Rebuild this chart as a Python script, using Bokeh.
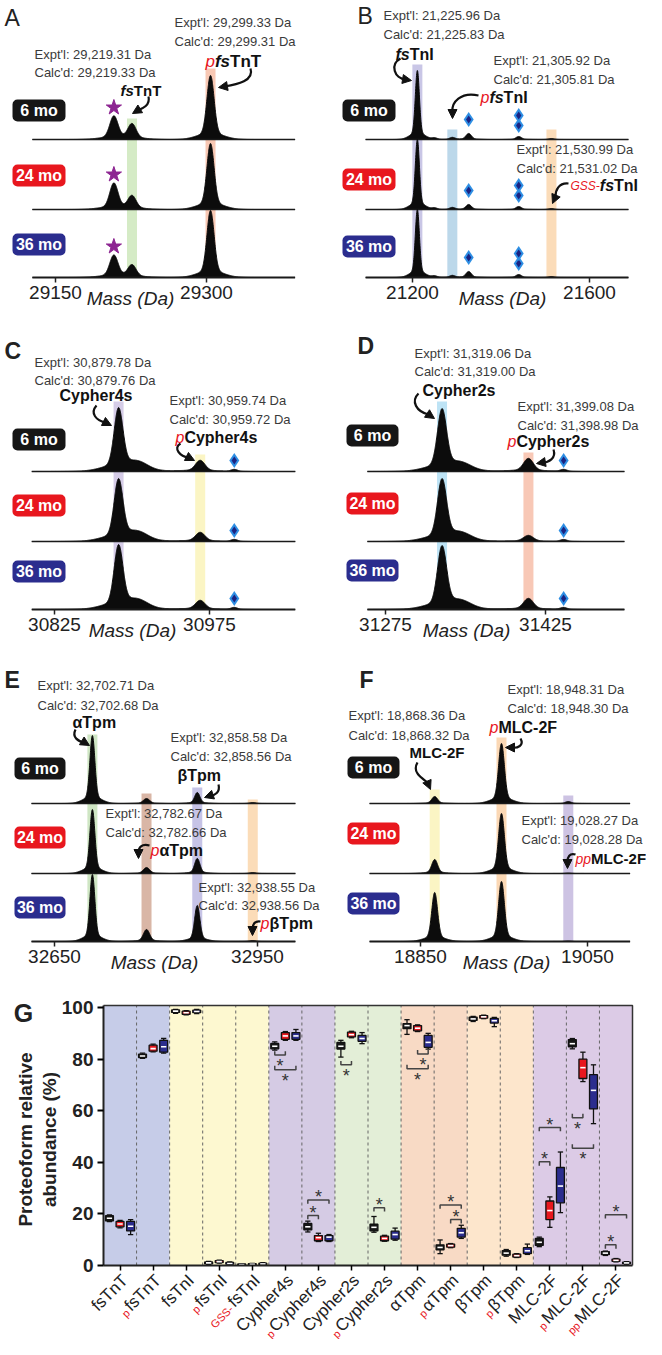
import numpy as np
from bokeh.plotting import figure
from bokeh.models import Range1d, FixedTicker, Label, Arrow, NormalHead
from bokeh.layouts import column, row
from bokeh.embed import file_html
from bokeh.resources import INLINE
from bokeh.core.properties import value

FONT = "Liberation Sans"
RED = "#e8171e"
AGES = ["6 mo", "24 mo", "36 mo"]
AGE_COLORS = ["#161616", "#e8171e", "#2b2d8e"]

# ---------------- Panel A : fsTnT ----------------
A_TICKS = [29150, 29300]
A_WINDOW = [29127, 29388]
A_MASS = [29208, 29226, 29304]
A_INT_6MO = [23, 15, 64]
A_INT_24MO = [26, 13, 66]
A_INT_36MO = [22, 12, 67]
A_SIGMA = [4.0, 4.0, 3.5]

# ---------------- Panel B : fsTnI ----------------
B_TICKS = [21200, 21600]
B_WINDOW = [21094, 21688]
B_MASS = [21211, 21250, 21290, 21327, 21440, 21514]
B_INT_6MO = [69, 1.5, 2, 6, 3, 1]
B_INT_24MO = [70, 1.5, 2, 5, 3, 1]
B_INT_36MO = [68, 1.5, 2, 6, 3, 1]
B_SIGMA = [4.5, 6, 6, 6, 6, 6]

# ---------------- Panel C : Cypher4s ----------------
C_TICKS = [30825, 30975]
C_WINDOW = [30803, 31058]
C_MASS = [30887, 30906, 30966, 30999]
C_INT_6MO = [62, 8, 11, 2]
C_INT_24MO = [61, 8, 9, 2]
C_INT_36MO = [63, 8, 9, 2]
C_SIGMA = [4.2, 10, 4.5, 3]

# ---------------- Panel D : Cypher2s ----------------
D_TICKS = [31275, 31425]
D_WINDOW = [31258, 31499]
D_MASS = [31328, 31346, 31409, 31442]
D_INT_6MO = [61, 7, 13, 2]
D_INT_24MO = [61, 7, 6, 2]
D_INT_36MO = [62, 7, 11, 2]
D_SIGMA = [4.2, 10, 4.5, 3]

# ---------------- Panel E : Tpm ----------------
E_TICKS = [32650, 32950]
E_WINDOW = [32616, 33006]
E_MASS = [32706, 32786, 32861, 32943]
E_INT_6MO = [68, 5, 11, 1]
E_INT_24MO = [64, 6, 15, 1]
E_INT_36MO = [67, 12, 36, 1]
E_SIGMA = [3.6, 4.5, 3.8, 4.5]

# ---------------- Panel F : MLC-2F ----------------
F_TICKS = [18850, 19050]
F_WINDOW = [18789, 19101]
F_MASS = [18867, 18947, 19027]
F_INT_6MO = [7, 60, 2]
F_INT_24MO = [14, 60, 0.5]
F_INT_36MO = [49, 60, 0.5]
F_SIGMA = [3.4, 3.4, 3.4]

# ---------------- Panel G : box plots ----------------
CAT_PREFIX = ["", "p", "", "p", "GSS-", "", "p", "", "p", "", "p", "", "p", "", "p", "pp"]
CAT_NAME = ["fsTnT", "fsTnT", "fsTnI", "fsTnI", "fsTnI", "Cypher4s", "Cypher4s", "Cypher2s",
            "Cypher2s", "αTpm", "αTpm", "βTpm", "βTpm", "MLC-2F", "MLC-2F", "MLC-2F"]
GROUP_SIZES = [2, 3, 2, 2, 2, 2, 3]
GROUP_COLORS = ["#c6cce8", "#fdf8d0", "#d5cbe4", "#e3eed7", "#f8dac5", "#fde6cc", "#dccbe6"]

MED_6MO = [18.3, 81.2, 98.6, 1.0, 0.4, 85.0, 15.0, 85.0, 14.8, 93.0, 7.0, 95.6, 4.8, 9.0, 86.0, 4.8]
Q1_6MO = [17.3, 80.6, 98.1, 0.6, 0.2, 84.0, 13.8, 83.9, 13.4, 91.8, 6.1, 95.0, 4.0, 7.8, 84.8, 4.2]
Q3_6MO = [19.3, 81.9, 99.1, 1.4, 0.6, 86.1, 16.3, 86.5, 16.0, 93.8, 8.0, 96.3, 5.8, 10.5, 87.6, 5.4]
LO_6MO = [17.0, 80.3, 97.8, 0.4, 0.1, 83.5, 13.0, 80.8, 12.9, 89.6, 4.6, 94.6, 3.6, 7.3, 84.0, 3.9]
HI_6MO = [19.6, 82.3, 99.3, 1.6, 0.7, 86.7, 17.2, 87.3, 19.0, 95.3, 9.9, 96.6, 6.2, 11.0, 88.0, 5.6]

MED_24MO = [16.1, 84.1, 98.0, 1.5, 0.5, 89.0, 10.8, 89.5, 10.5, 92.0, 7.7, 96.4, 3.8, 21.3, 76.7, 2.0]
Q1_24MO = [15.0, 83.1, 97.4, 1.1, 0.3, 87.7, 9.6, 88.6, 9.6, 91.0, 7.1, 95.9, 3.3, 17.8, 72.5, 1.6]
Q3_24MO = [17.1, 85.4, 98.6, 1.9, 0.7, 90.3, 11.6, 90.5, 11.4, 93.0, 8.3, 96.9, 4.4, 25.0, 80.0, 2.5]
LO_24MO = [14.6, 82.8, 97.2, 0.9, 0.2, 87.3, 9.3, 88.3, 9.4, 90.7, 6.9, 95.7, 3.1, 14.8, 71.3, 1.4]
HI_24MO = [17.5, 85.8, 98.8, 2.1, 0.8, 90.7, 12.5, 90.8, 11.7, 93.3, 8.5, 97.1, 4.6, 26.6, 82.7, 2.7]

MED_36MO = [15.2, 84.8, 98.5, 0.8, 0.6, 89.0, 11.0, 88.0, 12.0, 86.5, 12.7, 94.9, 5.7, 30.8, 67.9, 1.0]
Q1_36MO = [13.4, 82.7, 98.0, 0.5, 0.3, 87.7, 9.6, 86.9, 10.2, 84.6, 11.0, 94.0, 4.6, 24.3, 60.7, 0.7]
Q3_36MO = [17.1, 87.3, 99.0, 1.2, 0.9, 90.3, 11.6, 89.2, 13.3, 89.2, 14.4, 95.8, 6.9, 38.0, 74.0, 1.3]
LO_36MO = [12.0, 82.3, 97.7, 0.3, 0.1, 87.3, 9.3, 86.0, 9.8, 83.9, 10.5, 92.6, 4.3, 20.5, 55.0, 0.5]
HI_36MO = [17.8, 88.0, 99.3, 1.4, 1.1, 91.5, 12.0, 90.3, 14.5, 90.0, 15.6, 96.2, 8.3, 44.0, 77.8, 1.5]

SIG_CAT = [5, 5, 6, 6, 7, 8, 9, 9, 10, 10, 13, 13, 14, 14, 15, 15]
SIG_A = [0, 0, 0, 0, 0, 0, 1, 0, 1, 0, 0, 0, 0, 0, 0, 0]
SIG_B = [1, 2, 1, 2, 1, 1, 2, 2, 2, 2, 1, 2, 1, 2, 1, 2]
SIG_Y = [81.6, 75.9, 19.4, 25.4, 77.8, 22.4, 82.0, 76.3, 17.8, 23.5, 40.2, 53.5, 57.3, 45.5, 8.0, 19.7]
SIG_SIDE = ["below", "below", "above", "above", "below", "above", "below", "below", "above", "above",
            "above", "above", "below", "below", "above", "above"]

# ---------------- text width helper (Arial-metric font) ----------------
WR = {" ": .278, "'": .191, ",": .278, ".": .278, ":": .278, "-": .333, "(": .333, ")": .333, "α": .58, "β": .58}
WR.update({d: .556 for d in "0123456789"})
WR.update(dict(zip("ABCDEFGHIJKLMNOPQRSTUVWXYZ", [.667, .667, .722, .722, .667, .611, .778, .722, .278, .5, .667, .556, .833, .722, .778, .667, .778, .722, .667, .611, .722, .667, .944, .667, .667, .611])))
WR.update(dict(zip("abcdefghijklmnopqrstuvwxyz", [.556, .556, .5, .556, .556, .278, .556, .556, .222, .222, .5, .222, .833, .556, .556, .556, .556, .333, .5, .278, .556, .5, .722, .5, .5, .5])))
WB = dict(WR)
WB.update({"α": .62, "β": .62})
WB.update(dict(zip("ABCDEFGHIJKLMNOPQRSTUVWXYZ", [.722, .722, .722, .722, .667, .611, .778, .722, .278, .556, .722, .611, .833, .722, .778, .667, .778, .722, .667, .611, .722, .667, .944, .667, .667, .611])))
WB.update(dict(zip("abcdefghijklmnopqrstuvwxyz", [.556, .611, .556, .611, .556, .333, .611, .611, .278, .278, .556, .278, .889, .611, .611, .611, .611, .389, .556, .333, .611, .556, .778, .556, .556, .5])))


def tw(s, size, bold=False):
    t = WB if bold else WR
    return size * sum(t.get(ch, 0.556) for ch in s)


OFFSETS = [138, 68, 0]
BK = "#111111"
TXT = "#3a3a3a"

LAYOUT = {
    "A": dict(tick_px=(63, 214), left=8, top=8, letter=("A", 12, 25, "normal"),
              mass_label=138, boxes_x=(20, 73), boxes_y=(118, 183, 252),
              bands=[(1, 126, "#d5ebc6"), (2, 76, "#f8c8b4")],
              markers=[(0, "star", [9])],
              texts=[(182, 30, "Expt'l: 29,299.33 Da"), (182, 49, "Calc'd: 29,299.31 Da"),
                     (42, 62, "Expt'l: 29,219.31 Da"), (42, 80, "Calc'd: 29,219.33 Da")],
              rich=[(128, 98, [("fs", 15, BK, "bold italic"), ("TnT", 15, BK, "bold")]),
                    (213, 69, [("p", 17, RED, "italic"), ("fs", 17, BK, "bold italic"), ("TnT", 17, BK, "bold")])],
              arrows=[((156, 104), (158, 113), (150, 116), (145, 118), (140, 121)),
                      ((258, 76), (262, 88), (245, 92), (232, 94), (226, 95))]),
    "B": dict(tick_px=(420, 597), left=331, top=8, letter=("B", 365, 23, "normal"),
              mass_label=510, boxes_x=(350, 403), boxes_y=(118, 187, 254),
              bands=[(0, 72, "#c9c6e6"), (2, 137, "#bcd8ea"), (5, 137, "#fbdcb9")],
              markers=[(3, "diamond", [14]), (4, "diamond", [11, 21])],
              texts=[(391, 23, "Expt'l: 21,225.96 Da"), (391, 42, "Calc'd: 21,225.83 Da"),
                     (501, 68, "Expt'l: 21,305.92 Da"), (501, 87, "Calc'd: 21,305.81 Da"),
                     (524, 157, "Expt'l: 21,530.99 Da"), (524, 176, "Calc'd: 21,531.02 Da")],
              rich=[(403, 62, [("fs", 16, BK, "bold italic"), ("TnI", 16, BK, "bold")]),
                    (488, 105, [("p", 16, RED, "italic"), ("fs", 16, BK, "bold italic"), ("TnI", 16, BK, "bold")]),
                    (578, 193, [("GSS-", 12, RED, "italic"), ("fs", 16, BK, "bold italic"), ("TnI", 16, BK, "bold")])],
              arrows=[((408, 66), (397, 72), (402, 86), (413, 87), (419, 88)),
                      ((486, 103), (468, 99), (459, 110), (460, 119), (460, 126)),
                      ((576, 191), (566, 190), (563, 198), (563, 204), (560, 211))]),
    "C": dict(tick_px=(62, 217), left=8, top=340, letter=("C", 12, 358, "bold"),
              mass_label=140, boxes_x=(20, 73), boxes_y=(447, 513, 579),
              bands=[(0, 409, "#d5cce7"), (2, 462, "#fbf5c4")],
              markers=[(3, "diamond", [9])],
              texts=[(42, 370, "Expt'l: 30,879.78 Da"), (42, 388, "Calc'd: 30,879.76 Da"),
                     (177, 408, "Expt'l: 30,959.74 Da"), (177, 427, "Calc'd: 30,959.72 Da")],
              rich=[(67, 403, [("Cypher4s", 16, BK, "bold")]),
                    (183, 445, [("p", 16, RED, "italic"), ("Cypher4s", 16, BK, "bold")])],
              arrows=[((104, 413), (97, 421), (104, 428), (113, 430), (119, 433)),
                      ((188, 451), (180, 456), (188, 464), (196, 465), (202, 468))]),
    "D": dict(tick_px=(393, 553), left=331, top=340, letter=("D", 365, 353, "bold"),
              mass_label=474, boxes_x=(354, 406), boxes_y=(443, 511, 578),
              bands=[(0, 409, "#bde3f5"), (2, 460, "#f8c8b6")],
              markers=[(3, "diamond", [9])],
              texts=[(422, 361, "Expt'l: 31,319.06 Da"), (422, 379, "Calc'd: 31,319.00 Da"),
                     (525, 414, "Expt'l: 31,399.08 Da"), (525, 433, "Calc'd: 31,398.98 Da")],
              rich=[(430, 398, [("Cypher2s", 16, BK, "bold")]),
                    (515, 449, [("p", 16, RED, "italic"), ("Cypher2s", 16, BK, "bold")])],
              arrows=[((426, 401), (418, 409), (424, 419), (436, 422), (442, 426)),
                      ((561, 457), (564, 466), (556, 470), (550, 470), (544, 471))]),
    "E": dict(tick_px=(62, 265), left=8, top=672, letter=("E", 12, 687, "bold"),
              mass_label=162, boxes_x=(22, 73), boxes_y=(776, 845, 915),
              bands=[(0, 742, "#cfe6c4"), (1, 801, "#d9b6a6"), (2, 795, "#c6c3e6"), (3, 807, "#fbdcb8")],
              markers=[],
              texts=[(45, 693, "Expt'l: 32,702.71 Da"), (45, 713, "Calc'd: 32,702.68 Da"),
                     (178, 745, "Expt'l: 32,858.58 Da"), (178, 764, "Calc'd: 32,858.56 Da"),
                     (113, 821, "Expt'l: 32,782.67 Da"), (113, 840, "Calc'd: 32,782.66 Da"),
                     (206, 895, "Expt'l: 32,938.55 Da"), (206, 913, "Calc'd: 32,938.56 Da")],
              rich=[(80, 730, [("αTpm", 16, BK, "bold")]),
                    (185, 783, [("βTpm", 16, BK, "bold")]),
                    (158, 858, [("p", 16, RED, "italic"), ("αTpm", 16, BK, "bold")]),
                    (268, 931, [("p", 16, RED, "italic"), ("βTpm", 16, BK, "bold")])],
              arrows=[((83, 737), (79, 745), (86, 749), (92, 750), (97, 753)),
                      ((226, 792), (228, 800), (222, 803), (218, 803), (212, 805)),
                      ((157, 853), (149, 851), (146, 855), (146, 860), (146, 866)),
                      ((268, 929), (262, 928), (260, 932), (260, 937), (260, 943))]),
    "F": dict(tick_px=(428, 595), left=331, top=672, letter=("F", 367, 687, "bold"),
              mass_label=514, boxes_x=(355, 407), boxes_y=(775, 841, 911),
              bands=[(0, 797, "#fbf5c4"), (1, 745, "#fbd8b5"), (2, 803, "#cdc3e3")],
              markers=[],
              texts=[(515, 697, "Expt'l: 18,948.31 Da"), (515, 716, "Calc'd: 18,948.30 Da"),
                     (356, 723, "Expt'l: 18,868.36 Da"), (356, 743, "Calc'd: 18,868.32 Da"),
                     (529, 828, "Expt'l: 19,028.27 Da"), (529, 847, "Calc'd: 19,028.28 Da")],
              rich=[(497, 735, [("p", 16, RED, "italic"), ("MLC-2F", 16, BK, "bold")]),
                    (417, 760, [("MLC-2F", 15, BK, "bold")]),
                    (583, 866, [("pp", 14, RED, "italic"), ("MLC-2F", 15, BK, "bold")])],
              arrows=[((528, 746), (532, 753), (525, 756), (519, 755), (513, 755)),
                      ((425, 770), (419, 780), (430, 786), (435, 790), (438, 797)),
                      ((583, 862), (577, 860), (575, 865), (575, 869), (575, 876))]),
}


def spectrum_panel(ticks, window, mass, ints, sigma, lay):
    left, top = lay["left"], lay["top"]
    base = top + 277
    p0, p1 = lay["tick_px"]
    s = (p1 - p0) / (ticks[1] - ticks[0])

    def X(px):
        return ticks[0] + (px - p0) / s

    def Y(py):
        return base - py

    p = figure(width=323, height=332, x_range=Range1d(X(left), X(left + 323)), y_range=Range1d(-55, 277),
               output_backend="svg", toolbar_location=None, y_axis_location=None,
               min_border_left=0, min_border_right=0, min_border_top=0, min_border_bottom=0)
    p.grid.visible = False
    p.outline_line_color = None
    ax = p.xaxis[0]
    ax.fixed_location = 0
    ax.ticker = FixedTicker(ticks=ticks)
    ax.axis_line_color = None
    ax.major_tick_in = 0
    ax.major_tick_out = 5
    ax.major_tick_line_color = "#222222"
    ax.major_tick_line_width = 1.5
    ax.minor_tick_line_color = None
    ax.major_label_text_font = FONT
    ax.major_label_text_font_size = "19px"
    ax.major_label_text_color = "#222222"
    ax.major_label_standoff = 3

    hw = 5 / s
    for idx, top_py, col in lay["bands"]:
        p.quad(left=[mass[idx] - hw], right=[mass[idx] + hw], bottom=[0], top=[Y(top_py)],
               fill_color=col, line_color=None)

    x = np.linspace(window[0], window[1], 1600)
    for k in range(3):
        off = OFFSETS[k]
        prof = np.zeros_like(x)
        for c, h, sg in zip(mass, ints[k], sigma):
            prof += h * (np.exp(-0.5 * ((x - c) / sg) ** 2) + 0.12 * np.exp(-0.5 * ((x - c) / (3.5 * sg)) ** 2)) / 1.12
        p.varea(x=x, y1=np.full_like(x, off), y2=off + prof, fill_color="#0c0c0c")
        p.line(x, off + prof, line_color="#0c0c0c", line_width=1)
        p.line([window[0], window[1]], [off, off], line_color="#1a1a1a", line_width=2.2 if k == 2 else 1.6)

    for idx, kind, gaps in lay["markers"]:
        for k in range(3):
            for g in gaps:
                yy = OFFSETS[k] + ints[k][idx] + g
                if kind == "star":
                    p.scatter([mass[idx]], [yy], marker="star", size=16, fill_color="#8d2592", line_color="#8d2592")
                else:
                    p.scatter([mass[idx]], [yy], marker="diamond", size=15, fill_color="#2e8fe4", line_color=None)
                    p.scatter([mass[idx]], [yy], marker="diamond", size=8, fill_color="#1b2382", line_color=None)

    bx0, bx1 = lay["boxes_x"]
    for k, cy in enumerate(lay["boxes_y"]):
        p.quad(left=[X(bx0)], right=[X(bx1)], bottom=[Y(cy + 11)], top=[Y(cy - 11)],
               fill_color=AGE_COLORS[k], line_color=None, border_radius=5)
        p.add_layout(Label(x=X((bx0 + bx1) / 2), y=Y(cy), text=AGES[k], text_color="white", text_font=FONT,
                           text_font_style="bold", text_font_size="16px", text_align="center",
                           text_baseline="middle"))

    for lx, ly, t in lay["texts"]:
        p.add_layout(Label(x=X(lx), y=Y(ly), text=t, text_color=TXT, text_font=FONT, text_font_size="13px",
                           text_align="left", text_baseline="middle"))

    for lx, ly, segs in lay["rich"]:
        cx = lx
        for t, size, col, style in segs:
            p.add_layout(Label(x=X(cx), y=Y(ly), text=t, text_color=col, text_font=FONT, text_font_style=style,
                               text_font_size=f"{size}px", text_align="left", text_baseline="middle"))
            cx += tw(t, size, "bold" in style)

    for a, c0, c1, b, h in lay["arrows"]:
        p.bezier(x0=[X(a[0])], y0=[Y(a[1])], cx0=[X(c0[0])], cy0=[Y(c0[1])], cx1=[X(c1[0])], cy1=[Y(c1[1])],
                 x1=[X(b[0])], y1=[Y(b[1])], line_color=BK, line_width=2.2)
        p.add_layout(Arrow(end=NormalHead(size=9, fill_color=BK, line_color=BK, line_width=1),
                           x_start=X(b[0]), y_start=Y(b[1]), x_end=X(h[0]), y_end=Y(h[1]),
                           line_color=BK, line_width=2.2))

    lt, lx, ly, st = lay["letter"]
    p.add_layout(Label(x=X(lx), y=Y(ly), text=lt, text_color="#222222", text_font=FONT, text_font_style=st,
                       text_font_size="23px", text_align="left", text_baseline="middle"))
    p.add_layout(Label(x=X(lay["mass_label"]), y=-21, text="Mass (Da)", text_color="#222222", text_font=FONT,
                       text_font_style="italic", text_font_size="19px", text_align="center",
                       text_baseline="middle"))
    return p


pa = spectrum_panel(A_TICKS, A_WINDOW, A_MASS, [A_INT_6MO, A_INT_24MO, A_INT_36MO], A_SIGMA, LAYOUT["A"])
pb = spectrum_panel(B_TICKS, B_WINDOW, B_MASS, [B_INT_6MO, B_INT_24MO, B_INT_36MO], B_SIGMA, LAYOUT["B"])
pc = spectrum_panel(C_TICKS, C_WINDOW, C_MASS, [C_INT_6MO, C_INT_24MO, C_INT_36MO], C_SIGMA, LAYOUT["C"])
pd = spectrum_panel(D_TICKS, D_WINDOW, D_MASS, [D_INT_6MO, D_INT_24MO, D_INT_36MO], D_SIGMA, LAYOUT["D"])
pe = spectrum_panel(E_TICKS, E_WINDOW, E_MASS, [E_INT_6MO, E_INT_24MO, E_INT_36MO], E_SIGMA, LAYOUT["E"])
pf = spectrum_panel(F_TICKS, F_WINDOW, F_MASS, [F_INT_6MO, F_INT_24MO, F_INT_36MO], F_SIGMA, LAYOUT["F"])

# ---------------- Panel G ----------------
NCAT = len(CAT_NAME)
YMAX = 100.8
PXX = 529 / NCAT      # px per category
PXY = 260 / YMAX      # px per % unit
G_AXIS = 1273         # page y of the 0 line

fg = figure(width=646, height=343, x_range=Range1d(-103 / PXX, 543 / PXX),
            y_range=Range1d(-74 / PXY, YMAX + 9 / PXY),
            output_backend="svg", toolbar_location=None,
            min_border_left=0, min_border_right=0, min_border_top=0, min_border_bottom=0)
fg.grid.visible = False
fg.outline_line_color = None

edges = np.cumsum([0] + GROUP_SIZES)
fg.quad(left=edges[:-1], right=edges[1:], bottom=0, top=YMAX, fill_color=GROUP_COLORS, line_color=None)
bounds = np.arange(1, NCAT)
fg.segment(x0=bounds, y0=0, x1=bounds, y1=YMAX, line_color="#666666", line_dash="3 3", line_width=1)
fg.line([0, NCAT, NCAT], [YMAX, YMAX, 0], line_color="#333333", line_width=1.5)

OFFS = [-0.32, 0.0, 0.32]
STATS = [(MED_6MO, Q1_6MO, Q3_6MO, LO_6MO, HI_6MO),
         (MED_24MO, Q1_24MO, Q3_24MO, LO_24MO, HI_24MO),
         (MED_36MO, Q1_36MO, Q3_36MO, LO_36MO, HI_36MO)]
for k, (med, q1, q3, lo, hi) in enumerate(STATS):
    xs = np.arange(NCAT) + 0.5 + OFFS[k]
    fg.segment(x0=xs, y0=lo, x1=xs, y1=hi, line_color=BK, line_width=1.3)
    fg.segment(x0=xs - 0.08, y0=lo, x1=xs + 0.08, y1=lo, line_color=BK, line_width=1.3)
    fg.segment(x0=xs - 0.08, y0=hi, x1=xs + 0.08, y1=hi, line_color=BK, line_width=1.3)
    fg.vbar(x=xs, bottom=q1, top=q3, width=0.24, fill_color=AGE_COLORS[k], line_color=BK, line_width=1.3)
    fg.segment(x0=xs - 0.08, y0=med, x1=xs + 0.08, y1=med, line_color="white", line_width=1.6)

star_x, star_y = [], []
for c, a, b, yv, side in zip(SIG_CAT, SIG_A, SIG_B, SIG_Y, SIG_SIDE):
    xa = c + 0.5 + OFFS[a]
    xb = c + 0.5 + OFFS[b]
    t = -1.5 if side == "above" else 1.5
    fg.line([xa, xa, xb, xb], [yv + t, yv, yv, yv + t], line_color="#444444", line_width=1.5)
    star_x.append((xa + xb) / 2)
    star_y.append(yv + 1.1 if side == "above" else yv - 4.3)
fg.text(x=star_x, y=star_y, text=["*"] * len(star_x), text_font=value(FONT), text_font_size="18px",
        text_color="#333333", text_align="center", text_baseline="middle")

yax = fg.yaxis[0]
yax.fixed_location = 0
yax.bounds = (0, YMAX)
yax.ticker = FixedTicker(ticks=[0, 20, 40, 60, 80, 100])
yax.major_label_text_font = FONT
yax.major_label_text_font_style = "bold"
yax.major_label_text_font_size = "19px"
yax.major_label_text_color = "#222222"
yax.axis_line_width = 2
yax.axis_line_color = "#222222"
yax.major_tick_in = 0
yax.major_tick_out = 6
yax.major_tick_line_width = 2
yax.minor_tick_line_color = None
yax.major_label_standoff = 4

xax = fg.xaxis[0]
xax.fixed_location = 0
xax.bounds = (0, NCAT)
xax.ticker = FixedTicker(ticks=list(np.arange(NCAT) + 0.5))
xax.major_label_text_color = None
xax.major_label_text_font_size = "1px"
xax.axis_line_width = 2
xax.axis_line_color = "#222222"
xax.major_tick_in = 0
xax.major_tick_out = 5
xax.major_tick_line_width = 1.5
xax.minor_tick_line_color = None

ANG = np.pi / 4
for i, (pre, name) in enumerate(zip(CAT_PREFIX, CAT_NAME)):
    ax_ = i + 0.5 + 5 / PXX
    ay_ = -12 / PXY
    fg.add_layout(Label(x=ax_, y=ay_, text=name, angle=ANG, text_font=FONT, text_font_size="17px",
                        text_color="#222222", text_align="right", text_baseline="middle"))
    if pre:
        d = tw(name, 17) + 1.5
        sft = 2.5
        px_ = ax_ - 0.707 * d / PXX + 0.707 * sft / PXX
        py_ = ay_ - 0.707 * d / PXY - 0.707 * sft / PXY
        fg.add_layout(Label(x=px_, y=py_, text=pre, angle=ANG, text_font=FONT, text_font_size="11px",
                            text_color=RED, text_align="right", text_baseline="middle"))

fg.add_layout(Label(x=(33 - 111) / PXX, y=(G_AXIS - 1147) / PXY, text="Proteoform relative", angle=np.pi / 2,
                    text_font=FONT, text_font_style="bold", text_font_size="19px", text_color="#222222",
                    text_align="center", text_baseline="middle"))
fg.add_layout(Label(x=(57 - 111) / PXX, y=(G_AXIS - 1147) / PXY, text="abundance (%)", angle=np.pi / 2,
                    text_font=FONT, text_font_style="bold", text_font_size="19px", text_color="#222222",
                    text_align="center", text_baseline="middle"))
fg.add_layout(Label(x=(31 - 111) / PXX, y=(G_AXIS - 1020) / PXY, text="G", text_font=FONT,
                    text_font_style="bold", text_font_size="25px", text_color="#222222",
                    text_align="center", text_baseline="middle"))

layout = column(row(pa, pb), row(pc, pd), row(pe, pf), fg)
open("out.html", "w").write(file_html(layout, INLINE, "Proteoform chart"))
